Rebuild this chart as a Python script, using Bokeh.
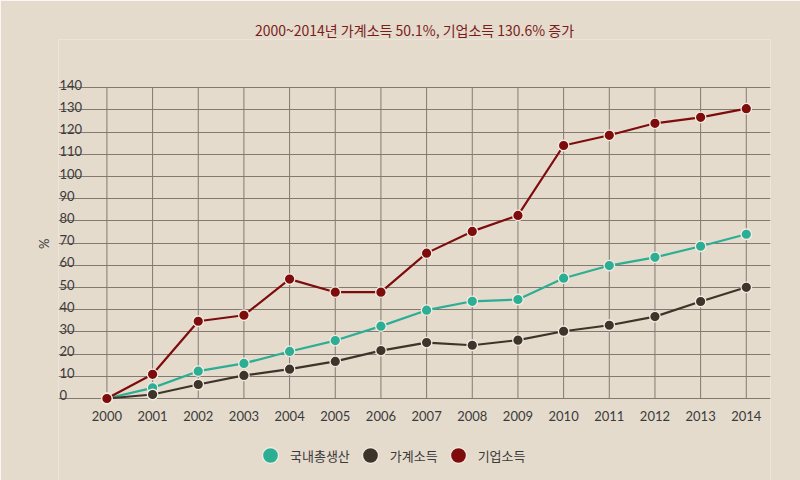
from bokeh.plotting import figure
from bokeh.models import Range1d, FixedTicker, Legend, LegendItem, ColumnDataSource, Title
from bokeh.core.properties import value
from bokeh.embed import file_html
from bokeh.resources import INLINE

years = [2000, 2001, 2002, 2003, 2004, 2005, 2006, 2007, 2008, 2009, 2010, 2011, 2012, 2013, 2014]
gdp = [0, 4.8, 12.3, 15.8, 21.2, 26.1, 32.6, 39.8, 43.8, 44.6, 54.2, 59.9, 63.6, 68.6, 74.0]
household = [0, 1.8, 6.3, 10.4, 13.2, 16.7, 21.6, 25.2, 24.0, 26.3, 30.3, 33.0, 36.9, 43.7, 50.1]
corporate = [0, 10.9, 34.8, 37.5, 53.8, 47.9, 47.9, 65.5, 75.3, 82.5, 114.0, 118.6, 124.0, 126.7, 130.6]
series_names = ["국내총생산", "가계소득", "기업소득"]
y_ticks = [0, 10, 20, 30, 40, 50, 60, 70, 80, 90, 100, 110, 120, 130, 140]
year_labels = [str(y) for y in years]
title_text = "2000~2014년 가계소득 50.1%, 기업소득 130.6% 증가"
y_unit = "%"

BG = "#e5dbcd"
GRID = "#837970"
TXT = "#3a3a3a"
colors = ["#2bae94", "#3d3529", "#7e0c0c"]
KFONT = "Noto Sans CJK KR"
NFONT = "Lato"

# frame spans from below the title to the bottom of the canvas; the value axis
# (0..140) occupies the middle part of it, labels and legend sit in the rest
p = figure(width=800, height=480, output_backend="svg", toolbar_location=None,
           x_range=Range1d(1998.94, 2014.53), y_range=Range1d(-36.95, 161.76),
           min_border_left=58, min_border_right=30, min_border_top=39, min_border_bottom=0)
p.background_fill_color = BG
p.border_fill_color = BG
p.outline_line_color = None

t = Title(text=title_text, align="center", text_font=KFONT, text_font_size="14px",
          text_font_style="normal", text_color="#7a1c1c", standoff=0)
p.add_layout(t, "above")

p.xaxis.visible = False
p.xgrid.visible = False

p.yaxis.ticker = FixedTicker(ticks=[])
p.yaxis.axis_line_color = None
p.yaxis.major_tick_line_color = None
p.yaxis.minor_tick_line_color = None
# leading en spaces lift the unit sign to the middle of the 0..140 span
p.yaxis.axis_label = "\u2002" * 5 + y_unit
p.yaxis.axis_label_standoff = 7
p.yaxis.axis_label_text_font = NFONT
p.yaxis.axis_label_text_font_size = "13px"
p.yaxis.axis_label_text_font_style = "normal"
p.yaxis.axis_label_text_color = TXT

p.ygrid.ticker = FixedTicker(ticks=y_ticks)
p.ygrid.grid_line_color = GRID
p.ygrid.grid_line_width = 1

# vertical grid lines, limited to the value range
vg = ColumnDataSource(dict(x=years, y0=[y_ticks[0]] * len(years), y1=[y_ticks[-1]] * len(years)))
p.segment(x0="x", y0="y0", x1="x", y1="y1", source=vg, line_color=GRID, line_width=1)

# y tick labels, just inside the left edge, above their grid lines
tick_src = ColumnDataSource(dict(x=[p.x_range.start] * len(y_ticks), y=y_ticks,
                                 t=[str(v) for v in y_ticks]))
p.text(x="x", y="y", text="t", source=tick_src, x_offset=1, y_offset=-3,
       text_align="left", text_baseline="alphabetic", text_font=value(NFONT),
       text_font_size="13px", text_color=TXT)

# x tick labels below the zero line
xl_src = ColumnDataSource(dict(x=years, y=[y_ticks[0]] * len(years), t=year_labels))
p.text(x="x", y="y", text="t", source=xl_src, y_offset=18,
       text_align="center", text_baseline="alphabetic", text_font=value(NFONT),
       text_font_size="13px", text_color=TXT)

items = []
for name, vals, c in zip(series_names, [gdp, household, corporate], colors):
    src = ColumnDataSource(dict(x=years, y=vals))
    p.line("x", "y", source=src, line_color=c, line_width=2.2)
    sc = p.scatter("x", "y", source=src, size=10.5, fill_color=c, line_color="#f3ece2",
                   line_width=1.3)
    items.append(LegendItem(label=name, renderers=[sc]))

legend = Legend(items=items, orientation="horizontal", location=(192, 5),
                glyph_width=40, glyph_height=40, label_standoff=0, spacing=0,
                label_text_font=KFONT, label_text_font_size="13px",
                label_text_color=TXT, background_fill_alpha=0,
                border_line_color=None, margin=0, padding=0)
p.add_layout(legend, "center")

open("out.html", "w").write(file_html(p, INLINE))
